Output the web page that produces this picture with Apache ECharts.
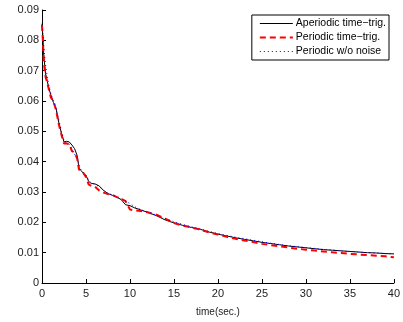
<!DOCTYPE html>
<html><head><meta charset="utf-8">
<script src="https://cdn.jsdelivr.net/npm/echarts@6/dist/echarts.min.js"></script>
<style>html,body{margin:0;padding:0;background:#fff}#c{width:403px;height:322px}</style>
</head><body><div id="c"></div>
<script>
var times = [0,0.1,0.2,0.4,0.6,0.8,1.0,1.3,1.6,1.9,2.2,2.5,2.8,3.1,3.4,3.7,4.0,4.2,4.4,4.7,5.0,5.3,5.6,6.0,6.5,7.0,7.5,8.0,8.5,9.0,9.5,10,10.5,11,12,13,14,15,16,17,18,19,20,21,22,23,24,25,26,27,28,29,30,31,32,33,34,35,36,37,38,39,40];
var aperiodic = [0.0855,0.081,0.075,0.069,0.0665,0.064,0.062,0.0595,0.0575,0.053,0.0495,0.0465,0.0467,0.0465,0.0455,0.0443,0.042,0.038,0.0372,0.0362,0.0355,0.0335,0.0328,0.0327,0.032,0.0305,0.0295,0.0289,0.0283,0.0275,0.0258,0.0255,0.0248,0.0243,0.0233,0.0222,0.0208,0.0198,0.019,0.0183,0.0177,0.0168,0.0161,0.0155,0.0149,0.0144,0.0139,0.0134,0.013,0.0126,0.0122,0.0119,0.0116,0.0113,0.011,0.0108,0.0106,0.0104,0.0102,0.0100,0.0099,0.0097,0.0096];
var periodic = [0.085,0.080,0.073,0.068,0.066,0.0635,0.0612,0.060,0.057,0.0525,0.049,0.046,0.046,0.0458,0.0435,0.043,0.041,0.0375,0.0368,0.0362,0.035,0.0325,0.032,0.0318,0.0305,0.0298,0.0293,0.029,0.0283,0.0278,0.027,0.0242,0.024,0.0238,0.0233,0.0225,0.0212,0.0198,0.0189,0.0183,0.0176,0.0167,0.016,0.0152,0.0146,0.014,0.0135,0.0129,0.0125,0.0121,0.0117,0.0113,0.011,0.0107,0.0104,0.0101,0.0099,0.0096,0.0094,0.0092,0.009,0.0088,0.0085];
var noNoise = [0.085,0.082,0.078,0.072,0.068,0.065,0.0625,0.060,0.0575,0.054,0.050,0.047,0.046,0.0458,0.044,0.0425,0.041,0.039,0.0375,0.0365,0.0355,0.034,0.033,0.0325,0.0318,0.0305,0.0296,0.029,0.0285,0.0278,0.027,0.0262,0.0252,0.0245,0.0234,0.0224,0.0212,0.0202,0.0193,0.0185,0.0178,0.017,0.0163,0.0157,0.0151,0.0146,0.0141,0.0136,0.0131,0.0127,0.0123,0.012,0.0117,0.0114,0.0111,0.0109,0.0106,0.0104,0.0102,0.01,0.0099,0.0097,0.0096];
var seriesNames = ['Aperiodic time\u2212trig.','Periodic time\u2212trig.','Periodic w/o noise'];
var xTicks = [0,5,10,15,20,25,30,35,40];
var yTicks = [0,0.01,0.02,0.03,0.04,0.05,0.06,0.07,0.08,0.09];

function pairs(ys){ return times.map(function(t,i){ return [t, ys[i]]; }); }
var font = 'Liberation Sans, Arial, Helvetica, sans-serif';
var styles = [
  {color:'#000', width:1, type:'solid'},
  {color:'#ff0000', width:2, type:[6,4]},
  {color:'#0000ff', width:1, type:[1,3]}
];
var chart = echarts.init(document.getElementById('c'), null, {renderer:'canvas'});
chart.setOption({
  animation:false,
  backgroundColor:'#fff',
  grid:{left:42,right:6,top:10,bottom:33,containLabel:false},
  legend:{
    right:14, top:15, orient:'vertical', itemGap:3, itemWidth:33, itemHeight:10,
    padding:[3,3,3,7], borderColor:'#000', borderWidth:1, backgroundColor:'#fff',
    itemStyle:{opacity:0, borderWidth:0},
    textStyle:{fontFamily:font, fontSize:10.5, color:'#000', padding:[0,0,0,-2]},
    data:seriesNames.map(function(n,i){ return {name:n, lineStyle:{color:styles[i].color,width:styles[i].width,type:styles[i].type}}; })
  },
  xAxis:{
    type:'value', min:0, max:40, interval:5,
    name:'time(sec.)', nameLocation:'middle', nameGap:24,
    nameTextStyle:{fontFamily:font,fontSize:10,color:'#222'},
    axisLine:{lineStyle:{color:'#000',width:1}},
    axisTick:{inside:true,length:4,lineStyle:{color:'#000'}},
    axisLabel:{fontFamily:font,fontSize:11,color:'#222',margin:5,
      formatter:function(v){ return xTicks.indexOf(v)>=0 ? String(v) : ''; }},
    splitLine:{show:false}
  },
  yAxis:{
    type:'value', min:0, max:0.09, interval:0.01,
    axisLine:{show:true,lineStyle:{color:'#000',width:1}},
    axisTick:{show:true,inside:true,length:4,lineStyle:{color:'#000'}},
    axisLabel:{fontFamily:font,fontSize:11,color:'#222',margin:3,
      formatter:function(v){ var r=Math.round(v*100)/100; return r===0?'0':r.toFixed(2); }},
    splitLine:{show:false}
  },
  series:seriesNames.map(function(n,i){
    var ys = [aperiodic, periodic, noNoise][i];
    return {name:n,type:'line',data:pairs(ys),symbol:'none',showSymbol:false,
      lineStyle:{color:styles[i].color,width:styles[i].width,type:styles[i].type},
      itemStyle:{color:styles[i].color}};
  })
});
</script></body></html>
